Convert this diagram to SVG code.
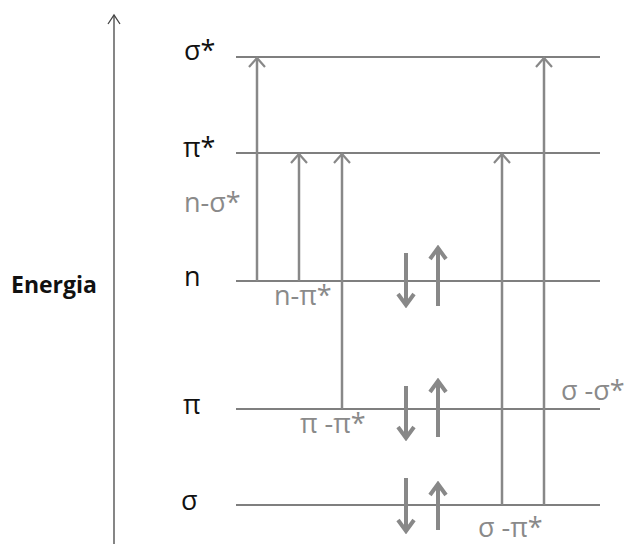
<svg xmlns="http://www.w3.org/2000/svg" width="627" height="544" viewBox="0 0 627 544">
<style>
.lvl{stroke:#555;stroke-width:1.5;fill:none}
.tr{stroke:#888;stroke-width:2.5;fill:none}
.el{stroke:#888;stroke-width:4;fill:none}
.lab{font-family:"Open Sans","Liberation Sans",sans-serif;font-size:27px;fill:#111}
.tl{font-family:"Open Sans","Liberation Sans",sans-serif;font-size:27px;fill:#8a8a8a}
</style>
<defs>
<marker id="oa" markerWidth="12" markerHeight="18" refX="10" refY="9" orient="auto" markerUnits="userSpaceOnUse"><path d="M1,1 L10,9 L1,17" fill="none" stroke="#888" stroke-width="2.2"/></marker>
<marker id="ax" markerWidth="12" markerHeight="14" refX="10" refY="7" orient="auto" markerUnits="userSpaceOnUse"><path d="M1,1 L10,7 L1,13" fill="none" stroke="#444" stroke-width="1.3"/></marker>
<marker id="ea" markerWidth="16" markerHeight="20" refX="13" refY="10" orient="auto" markerUnits="userSpaceOnUse"><path d="M2,2 L13,10 L2,18" fill="none" stroke="#888" stroke-width="4"/></marker>
</defs>
<g id="axis">
<line x1="114" y1="544" x2="114" y2="15" stroke="#444" stroke-width="1.3" marker-end="url(#ax)"/>
<text x="11" y="293" font-family="'Open Sans','Liberation Sans',sans-serif" font-size="23" font-weight="bold" fill="#111">Energia</text>
</g>
<g id="level-sigma-star"><line class="lvl" x1="236" y1="57" x2="600" y2="57"/><text class="lab" x="184" y="60">σ*</text></g>
<g id="level-pi-star"><line class="lvl" x1="236" y1="153" x2="600" y2="153"/><text class="lab" x="183" y="157">π*</text></g>
<g id="level-n"><line class="lvl" x1="236" y1="281" x2="600" y2="281"/><text class="lab" x="184" y="286">n</text></g>
<g id="level-pi"><line class="lvl" x1="236" y1="409" x2="600" y2="409"/><text class="lab" x="183" y="414">π</text></g>
<g id="level-sigma"><line class="lvl" x1="236" y1="505" x2="600" y2="505"/><text class="lab" x="181" y="510">σ</text></g>
<g id="electrons">
<line class="el" x1="406" y1="253" x2="406" y2="305" marker-end="url(#ea)"/>
<line class="el" x1="438" y1="306" x2="438" y2="248" marker-end="url(#ea)"/>
<line class="el" x1="406" y1="386" x2="406" y2="438" marker-end="url(#ea)"/>
<line class="el" x1="438" y1="437" x2="438" y2="381" marker-end="url(#ea)"/>
<line class="el" x1="406" y1="478" x2="406" y2="531" marker-end="url(#ea)"/>
<line class="el" x1="438" y1="530" x2="438" y2="484" marker-end="url(#ea)"/>
</g>
<g id="connectors">
<line class="tr" x1="257" y1="281" x2="257" y2="58" marker-end="url(#oa)"/>
<line class="tr" x1="299" y1="281" x2="299" y2="154" marker-end="url(#oa)"/>
<line class="tr" x1="342" y1="409" x2="342" y2="154" marker-end="url(#oa)"/>
<line class="tr" x1="502" y1="505" x2="502" y2="154" marker-end="url(#oa)"/>
<line class="tr" x1="544" y1="505" x2="544" y2="58" marker-end="url(#oa)"/>
</g>
<g id="transition-labels">
<text class="tl" x="184" y="212">n-σ*</text>
<text class="tl" x="274" y="305">n-π*</text>
<text class="tl" x="300" y="433">π -π*</text>
<text class="tl" x="561" y="400">σ -σ*</text>
<text class="tl" x="478" y="537">σ -π*</text>
</g>
</svg>
